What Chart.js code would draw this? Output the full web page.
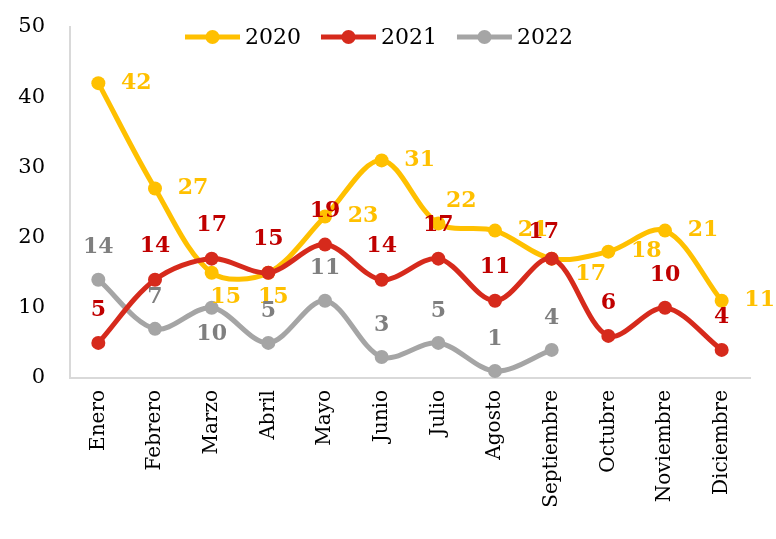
<!DOCTYPE html>
<html>
<head>
<meta charset="utf-8">
<script src="https://cdn.jsdelivr.net/npm/chart.js@4"></script>
<style>
  body { margin: 0; background: #fff; }
  #wrap { width: 776px; height: 539px; }
</style>
</head>
<body>
<div id="wrap"><canvas id="chart" width="776" height="539"></canvas></div>
<script>
const months = ['Enero', 'Febrero', 'Marzo', 'Abril', 'Mayo', 'Junio', 'Julio', 'Agosto', 'Septiembre', 'Octubre', 'Noviembre', 'Diciembre'];
const years = ['2020', '2021', '2022'];
const values2020 = [42, 27, 15, 15, 23, 31, 22, 21, 17, 18, 21, 11];
const values2021 = [5, 14, 17, 15, 19, 14, 17, 11, 17, 6, 10, 4];
const values2022 = [14, 7, 10, 5, 11, 3, 5, 1, 4];
const yTicks = [0, 10, 20, 30, 40, 50];

const lineColors = ['#FFC000', '#D62A1C', '#A5A5A5'];
const labelColors = ['#FFC000', '#C00000', '#7F7F7F'];
const serif = "'DejaVu Serif', serif";

// where each label sits relative to its point
const defaultOffset = [[38, 0], [0, -33], [0, -32]];
const offsetFix = {
  0: { 2: [14, 25], 3: [5, 25], 6: [23, -22], 8: [39, 16] },
  1: { 8: [-8, -26] },
  2: { 2: [0, 26] }
};

const labelPlugin = {
  id: 'pointLabels',
  afterDatasetsDraw(chart) {
    const ctx = chart.ctx;
    ctx.save();
    ctx.font = "bold 22px " + serif;
    ctx.textAlign = 'center';
    ctx.textBaseline = 'middle';
    chart.data.datasets.forEach((ds, i) => {
      const meta = chart.getDatasetMeta(i);
      ctx.fillStyle = labelColors[i];
      meta.data.forEach((pt, j) => {
        const off = (offsetFix[i] && offsetFix[i][j]) || defaultOffset[i];
        ctx.fillText(String(ds.data[j]), pt.x + off[0], pt.y + off[1]);
      });
    });
    ctx.restore();
  }
};

const legendPlugin = {
  id: 'topLegend',
  afterDraw(chart) {
    const ctx = chart.ctx;
    ctx.save();
    ctx.font = "22px " + serif;
    ctx.textBaseline = 'middle';
    let x = 185;
    const y = 37;
    years.forEach((yr, i) => {
      ctx.strokeStyle = lineColors[i];
      ctx.lineWidth = 5;
      ctx.beginPath();
      ctx.moveTo(x, y);
      ctx.lineTo(x + 55, y);
      ctx.stroke();
      ctx.fillStyle = lineColors[i];
      ctx.beginPath();
      ctx.arc(x + 27.5, y, 7, 0, Math.PI * 2);
      ctx.fill();
      ctx.fillStyle = '#000';
      ctx.fillText(yr, x + 60, y + 1);
      x += 60 + ctx.measureText(yr).width + 20;
    });
    ctx.restore();
  }
};

const makeSet = (i, data, order) => ({
  label: years[i],
  data: data,
  borderColor: lineColors[i],
  backgroundColor: lineColors[i],
  borderWidth: 5,
  pointRadius: 7,
  pointHoverRadius: 7,
  pointBorderWidth: 0,
  tension: 0.33,
  order: order
});

new Chart(document.getElementById('chart'), {
  type: 'line',
  data: {
    labels: months,
    datasets: [
      makeSet(0, values2020, 1),
      makeSet(1, values2021, 0),
      makeSet(2, values2022, 2)
    ]
  },
  options: {
    responsive: false,
    animation: false,
    layout: { padding: { top: 27, right: 26, left: 0, bottom: 0 } },
    plugins: { legend: { display: false }, tooltip: { enabled: false } },
    scales: {
      x: {
        offset: true,
        grid: { display: false, drawTicks: false },
        border: { display: true, color: '#D9D9D9', width: 2 },
        ticks: {
          color: '#000',
          font: { family: serif, size: 20 },
          maxRotation: 90,
          minRotation: 90,
          padding: 12
        },
        afterFit(scale) { scale.height = 161; }
      },
      y: {
        min: 0,
        max: 50,
        grid: { display: false, drawTicks: false },
        border: { display: true, color: '#D9D9D9', width: 2 },
        afterBuildTicks(scale) { scale.ticks = yTicks.map(v => ({ value: v })); },
        ticks: {
          color: '#000',
          font: { family: serif, size: 21 },
          padding: 25
        },
        afterFit(scale) {
          scale.width = 70;
          scale.paddingTop = 0;
          scale.paddingBottom = 0;
        }
      }
    }
  },
  plugins: [labelPlugin, legendPlugin]
});
</script>
</body>
</html>
